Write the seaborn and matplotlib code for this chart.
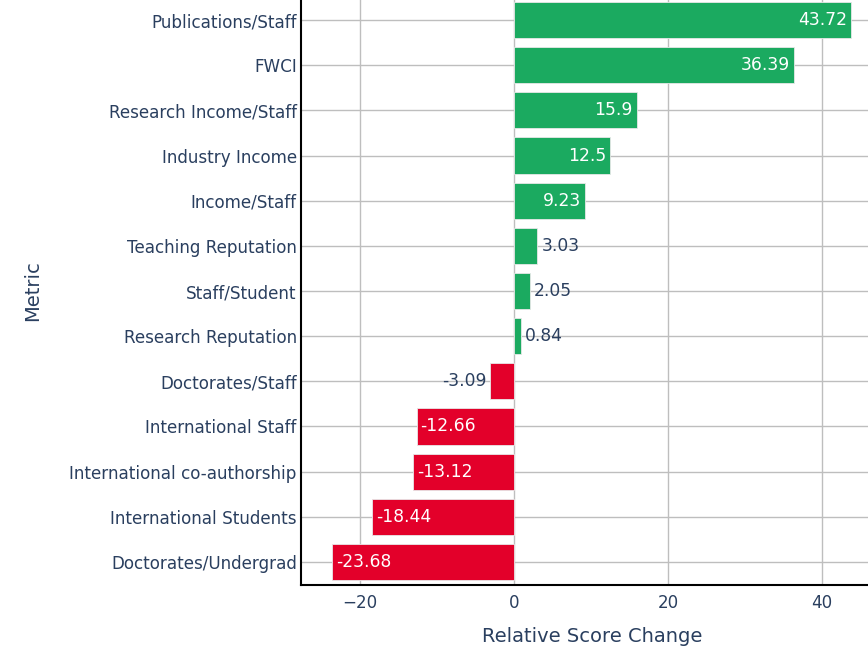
import matplotlib
matplotlib.use("Agg")
import matplotlib.pyplot as plt
import seaborn as sns
import pandas as pd

metrics = ["Publications/Staff", "FWCI", "Research Income/Staff", "Industry Income",
           "Income/Staff", "Teaching Reputation", "Staff/Student", "Research Reputation",
           "Doctorates/Staff", "International Staff", "International co-authorship",
           "International Students", "Doctorates/Undergrad"]
changes = [43.72, 36.39, 15.9, 12.5, 9.23, 3.03, 2.05, 0.84,
           -3.09, -12.66, -13.12, -18.44, -23.68]
labels = ["43.72", "36.39", "15.9", "12.5", "9.23", "3.03", "2.05", "0.84",
          "-3.09", "-12.66", "-13.12", "-18.44", "-23.68"]
x_ticks = [-20, 0, 20, 40]

GREEN = "#1BAA60"
RED = "#E3002A"
TXT = "#2a3f5f"

df = pd.DataFrame({"Metric": metrics, "Change": changes})
df["Sign"] = ["pos" if v >= 0 else "neg" for v in changes]

sns.set_style("white")
plt.rcParams["font.family"] = ["DejaVu Sans"]

fig = plt.figure(figsize=(8.68, 6.51), dpi=100)
ax = fig.add_axes([301 / 868, 1 - 584.5 / 651, (883 - 301) / 868, 587 / 651])

sns.barplot(data=df, x="Change", y="Metric", hue="Sign", order=metrics,
            palette={"pos": GREEN, "neg": RED}, saturation=1, orient="h", width=0.8,
            edgecolor="#e8e8e8", linewidth=0.6, legend=False, ax=ax, zorder=3)

ax.set_xlim(-27.66, 47.9)
ax.set_ylim(12.5, -0.5)
ax.set_xticks(x_ticks)
ax.grid(True, color="#bebebe", linewidth=1, zorder=0)
ax.set_axisbelow(True)

for s in ["top", "right"]:
    ax.spines[s].set_visible(False)
for s in ["left", "bottom"]:
    ax.spines[s].set_color("black")
    ax.spines[s].set_linewidth(1.5)

ax.tick_params(axis="both", length=0, labelsize=12.1, labelcolor=TXT)
ax.tick_params(axis="y", pad=3)
ax.tick_params(axis="x", pad=6.5)
ax.set_xlabel("Relative Score Change", fontsize=14, color=TXT, labelpad=11)
ax.set_ylabel("Metric", fontsize=14, color=TXT, labelpad=20)

pad = 4 / 7.7
for i, (v, t) in enumerate(zip(changes, labels)):
    inside = abs(v) > 6
    if v >= 0:
        if inside:
            ax.text(v - pad, i, t, ha="right", va="center", color="white", fontsize=12.3, zorder=4)
        else:
            ax.text(v + pad, i, t, ha="left", va="center", color=TXT, fontsize=12.3, zorder=4)
    else:
        if inside:
            ax.text(v + pad, i, t, ha="left", va="center", color="white", fontsize=12.3, zorder=4)
        else:
            ax.text(v - pad, i, t, ha="right", va="center", color=TXT, fontsize=12.3, zorder=4)

fig.savefig("out.png", dpi=100)
